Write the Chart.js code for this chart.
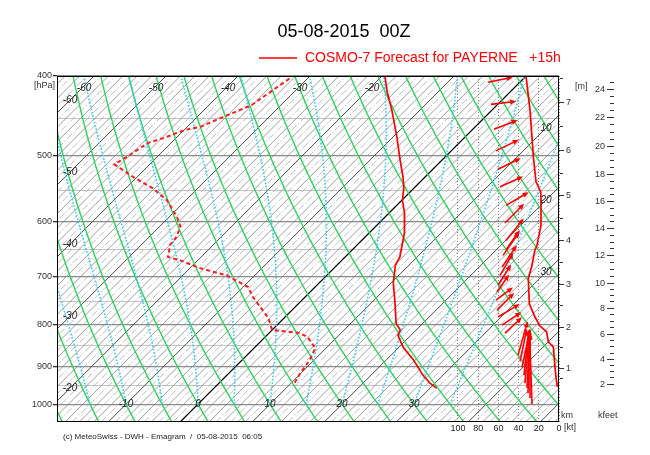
<!DOCTYPE html>
<html><head><meta charset="utf-8">
<script src="https://cdn.jsdelivr.net/npm/chart.js@4.4.1/dist/chart.umd.min.js"></script>
<style>html,body{margin:0;padding:0;background:#fff}canvas{display:block}</style>
</head><body>
<canvas id="c" width="650" height="455"></canvas>
<script>
// ---------------- data ----------------
const tempP = [400, 418, 440, 474, 506, 530, 546, 566, 587, 620, 663, 678, 713, 748, 798, 813, 825, 853, 884, 922, 943, 956];
const tempT = [-19.6, -17.1, -13.9, -9.5, -5.8, -3.1, -1.5, 0.1, 2.2, 4.9, 7.6, 8.1, 10.3, 12.9, 16.3, 17.8, 18.2, 20.6, 23.8, 27.2, 29.3, 30.9];

const dewP = [403, 434, 446, 461, 465, 476, 482, 501, 512, 530, 547, 566, 593, 609, 627, 641, 663, 669, 684, 698, 721, 741, 786, 813, 820, 829, 855, 884, 917, 948];
const dewT = [-32.5, -34.1, -36.0, -38.2, -39.9, -41.8, -43.2, -44.2, -44.9, -40.6, -36.3, -32.6, -28.9, -27.1, -26.2, -26.0, -24.6, -22.5, -18.6, -13.9, -9.3, -7.3, -2.2, 0.0, 4.3, 5.9, 8.5, 9.4, 9.9, 10.6];

const speedP  = [400, 440, 501, 537, 553, 566, 607, 644, 650, 681, 704, 755, 784, 804, 817, 840, 852, 901, 927, 953];
const speedKt = [32.7, 28.7, 25.4, 22.8, 18.1, 17.8, 17.8, 22.1, 23.8, 27.0, 30.4, 29.4, 23.8, 18.8, 12.2, 10.6, 5.6, 4.0, 3.0, 1.7];

// wind arrows: level (hPa), tail position on kt axis, arrow direction (deg, 0=east, 90=north/up), arrow length (kt units)
const windP     = [407, 433, 464, 493, 519, 545, 574, 603, 633, 650, 660, 682, 698, 717, 731, 748, 769, 784, 802, 820, 872, 887, 902, 922, 943, 956, 970, 983, 1000];
const windPosKt = [70.3, 67.3, 64.4, 62.4, 60.4, 58.4, 52.5, 53.5, 52.5, 52.5, 55.4, 56.4, 58.4, 60.4, 61.4, 62.4, 61.4, 60.4, 56.4, 53.5, 40.6, 38.6, 36.6, 34.7, 33.7, 31.7, 30.7, 28.7, 26.7];
const windDir   = [11, 7, 21, 26, 26, 24, 30, 45, 51, 55, 55, 56, 60, 57, 55, 37, 45, 31, 34, 43, 74, 78, 78, 84, 85, 87, 88, 90, 92];
const windLen   = [25, 25, 25, 25, 25, 25, 26, 27, 28, 24, 28, 26, 26, 24, 21, 21, 24, 25, 23, 23, 35, 33, 39, 45, 54, 55, 59, 65, 70];

const pressureTicks = [400, 450, 500, 550, 600, 650, 700, 750, 800, 850, 900, 950, 1000];
const ktTicks = [0, 20, 40, 60, 80, 100];

const kmLabels = [1, 2, 3, 4, 5, 6, 7];
const kmP      = [904, 806, 715, 633, 558, 492, 430];
const kftLabels = [2, 4, 6, 8, 10, 12, 14, 16, 18, 20, 22, 24];
const kftP      = [944, 882, 821, 764, 712, 659, 612, 567, 526, 486, 449, 415];

const isoTopLabels = [-60, -50, -40, -30, -20];
const isoLeftLabels = [-60, -50, -40, -30, -20];
const isoBottomLabels = [-10, 0, 10, 20, 30];
const isoRightLabels = [10, 20, 30];

// ---------------- diagram geometry ----------------
const SKEW = 358 / 7.2;            // skew of isotherms (°C per unit ln p)
const skewX = (T, p) => T + SKEW * Math.log(1000 / p);

function moistDTdp(T, p) {          // pseudo-adiabatic lapse, K per hPa
  const Tc = T - 273.15;
  const es = 6.112 * Math.exp(17.67 * Tc / (Tc + 243.5));
  const rs = 0.622 * es / (p - es);
  const Rd = 287.04, cp = 1005.7, Lv = 2.501e6;
  return ((Rd * T + Lv * rs) / p) / (cp + (Lv * Lv * rs * 0.622) / (Rd * T * T));
}

const bgPlugin = {
  id: 'bg',
  beforeDatasetsDraw(chart) {
    const { ctx, chartArea: a, scales } = chart;
    const xs = scales.x, ys = scales.y;
    const px = (T, p) => xs.getPixelForValue(skewX(T, p));
    const py = p => ys.getPixelForValue(p);
    const pTop = ys.min, pBot = ys.max;
    ctx.save();
    ctx.beginPath(); ctx.rect(a.left, a.top, a.right - a.left, a.bottom - a.top); ctx.clip();

    // isotherms
    for (let T = -70; T <= 56; T++) {
      ctx.beginPath();
      if (T === 0) { ctx.strokeStyle = '#000'; ctx.lineWidth = 1.2; ctx.setLineDash([]); }
      else if (T % 10 === 0) { ctx.strokeStyle = '#4a4a4a'; ctx.lineWidth = 1; ctx.setLineDash([]); }
      else if (T % 2 === 0) { ctx.strokeStyle = '#858585'; ctx.lineWidth = 0.8; ctx.setLineDash([]); }
      else { ctx.strokeStyle = '#a0a0a0'; ctx.lineWidth = 0.7; ctx.setLineDash([7, 2, 1.5, 2]); }
      ctx.moveTo(px(T, pBot), py(pBot));
      ctx.lineTo(px(T, pTop), py(pTop));
      ctx.stroke();
    }
    ctx.setLineDash([]);

    // dry adiabats
    ctx.strokeStyle = '#2fd35a'; ctx.lineWidth = 1.4;
    for (let th = -25; th <= 95; th += 5) {
      const theta = th + 273.15;
      ctx.beginPath();
      let first = true;
      for (let p = pBot; p >= pTop - 1; p -= 5) {
        const T = theta * Math.pow(p / 1000, 0.2857) - 273.15;
        const x = px(T, p), y = py(p);
        if (first) { ctx.moveTo(x, y); first = false; } else ctx.lineTo(x, y);
      }
      ctx.stroke();
    }

    // moist adiabats
    ctx.strokeStyle = '#30cdf5'; ctx.lineWidth = 1.6; ctx.setLineDash([1.6, 1.8]);
    for (let tw = -20; tw <= 35; tw += 5) {
      let T = tw + 273.15;
      ctx.beginPath();
      ctx.moveTo(px(T - 273.15, 1000), py(1000));
      for (let p = 1000; p > pTop; p -= 2) {
        T = T - moistDTdp(T, p) * 2;
        ctx.lineTo(px(T - 273.15, p - 2), py(p - 2));
      }
      ctx.stroke();
    }
    ctx.setLineDash([]);
    ctx.restore();
  },
  afterDatasetsDraw(chart) {
    const { ctx, scales } = chart;
    const ks = scales.kt, ys = scales.y;
    ctx.save();
    ctx.strokeStyle = '#ff0000'; ctx.fillStyle = '#ff0000'; ctx.lineWidth = 1.6;
    const unit = Math.abs(ks.getPixelForValue(0) - ks.getPixelForValue(1));
    for (let i = 0; i < windP.length; i++) {
      const x0 = ks.getPixelForValue(windPosKt[i]), y0 = ys.getPixelForValue(windP[i]);
      const ang = windDir[i] * Math.PI / 180, L = windLen[i] * unit;
      const x1 = x0 + L * Math.cos(ang), y1 = y0 - L * Math.sin(ang);
      const ux = Math.cos(ang), uy = -Math.sin(ang);
      const hl = 6, hw = 2.6;
      ctx.beginPath(); ctx.moveTo(x0, y0); ctx.lineTo(x1 - ux * hl * 0.6, y1 - uy * hl * 0.6); ctx.stroke();
      ctx.beginPath();
      ctx.moveTo(x1, y1);
      ctx.lineTo(x1 - ux * hl - uy * hw, y1 - uy * hl + ux * hw);
      ctx.lineTo(x1 - ux * hl + uy * hw, y1 - uy * hl - ux * hw);
      ctx.closePath(); ctx.fill();
    }
    ctx.restore();
  },
  afterDraw(chart) {
    const { ctx, chartArea: a, scales } = chart;
    const xs = scales.x, ys = scales.y, ks = scales.kt;
    const px = (T, p) => xs.getPixelForValue(skewX(T, p));
    const py = p => ys.getPixelForValue(p);
    ctx.save();
    // frame
    ctx.strokeStyle = '#000'; ctx.lineWidth = 1;
    ctx.strokeRect(a.left + 0.5, a.top + 0.5, a.right - a.left - 1, a.bottom - a.top - 1);

    // isotherm labels
    ctx.fillStyle = '#222'; ctx.font = 'italic 10px "Liberation Sans", Arial, sans-serif';
    ctx.textAlign = 'center'; ctx.textBaseline = 'middle';
    const pAt = (T, X) => 1000 * Math.exp(-(X - T) / SKEW);
    const Xleft = xs.getValueForPixel(a.left + 13), Xright = xs.getValueForPixel(a.right - 13);
    const pTopLab = ys.getValueForPixel(a.top + 12);
    isoTopLabels.forEach(T => ctx.fillText(String(T), px(T, pTopLab) + 2, py(pTopLab)));
    isoLeftLabels.forEach(T => { const p = pAt(T, Xleft); ctx.fillText(String(T), px(T, p), py(p)); });
    isoBottomLabels.forEach(T => ctx.fillText(String(T), px(T, 1000), py(1000)));
    isoRightLabels.forEach(T => { const p = pAt(T, Xright); ctx.fillText(String(T), px(T, p), py(p)); });

    // [hPa]
    ctx.font = '9px "Liberation Sans", Arial, sans-serif'; ctx.fillStyle = '#333';
    ctx.textAlign = 'right';
    ctx.fillText('[hPa]', a.left - 2, a.top + 10);

    // km axis
    ctx.strokeStyle = '#333'; ctx.lineWidth = 1; ctx.textAlign = 'left';
    const kmMinor = [];
    kmP.forEach((p, i) => { if (i > 0) kmMinor.push(Math.sqrt(p * kmP[i - 1])); });
    kmMinor.push(Math.sqrt(kmP[0] * 956)); kmMinor.push(kmP[6] * Math.sqrt(kmP[6] / kmP[5]));
    kmP.forEach((p, i) => {
      const y = Math.round(py(p)) + 0.5;
      ctx.beginPath(); ctx.moveTo(a.right, y); ctx.lineTo(a.right + 5, y); ctx.stroke();
      ctx.fillText(String(kmLabels[i]), a.right + 7, y);
    });
    kmMinor.forEach(p => {
      const y = Math.round(py(p)) + 0.5;
      ctx.beginPath(); ctx.moveTo(a.right + 1, y); ctx.lineTo(a.right + 4, y); ctx.stroke();
    });
    ctx.fillText('[m]', a.right + 16, py(412));
    ctx.fillText('km', a.right + 2, a.bottom - 6);

    // kfeet axis
    const kx = 607;
    ctx.textAlign = 'right';
    kftP.forEach((p, i) => {
      const y = Math.round(py(p)) + 0.5;
      ctx.beginPath(); ctx.moveTo(kx, y); ctx.lineTo(kx + 7, y); ctx.stroke();
      ctx.fillText(String(kftLabels[i]), kx - 2, y);
      const pts = [];
      if (i > 0) {
        const p0 = kftP[i - 1];
        for (let k = 1; k < 4; k++) pts.push(p0 * Math.pow(p / p0, k / 4));
      }
      pts.forEach(q => {
        const yy = Math.round(py(q)) + 0.5;
        ctx.beginPath(); ctx.moveTo(kx + 3, yy); ctx.lineTo(kx + 7, yy); ctx.stroke();
      });
    });
    { const p0 = kftP[kftP.length - 1], p1 = kftP[kftP.length - 2];
      const q = p0 * Math.pow(p0 / p1, 0.25); const yy = Math.round(py(q)) + 0.5;
      ctx.beginPath(); ctx.moveTo(kx + 3, yy); ctx.lineTo(kx + 7, yy); ctx.stroke(); }
    ctx.textAlign = 'left';
    ctx.fillText('kfeet', 598, a.bottom - 6);

    // [kt]
    ctx.fillText('[kt]', ks.getPixelForValue(0) + 5, a.bottom + 6);

    // footer
    ctx.fillStyle = '#222'; ctx.font = '8px "Liberation Sans", Arial, sans-serif';
    ctx.fillText('(c) MeteoSwiss - DWH - Emagram  /  05-08-2015  06:05', 63, 437);

    // title and legend
    ctx.fillStyle = '#000'; ctx.font = '18px "Liberation Sans", Arial, sans-serif'; ctx.textAlign = 'center';
    ctx.fillText('05-08-2015  00Z', 344, 32);
    ctx.strokeStyle = '#ff0000'; ctx.lineWidth = 1.5;
    ctx.beginPath(); ctx.moveTo(259, 58); ctx.lineTo(297, 58); ctx.stroke();
    ctx.fillStyle = '#ff0000'; ctx.font = '14px "Liberation Sans", Arial, sans-serif'; ctx.textAlign = 'left';
    ctx.fillText('COSMO-7 Forecast for PAYERNE   +15h', 305, 58);
    ctx.restore();
  }
};

new Chart(document.getElementById('c'), {
  type: 'scatter',
  data: {
    datasets: [
      { label: 'T', data: tempP.map((p, i) => ({ x: skewX(tempT[i], p), y: p })), showLine: true,
        borderColor: '#ff0000', borderWidth: 1.7, pointRadius: 0, xAxisID: 'x', yAxisID: 'y' },
      { label: 'Td', data: dewP.map((p, i) => ({ x: skewX(dewT[i], p), y: p })), showLine: true,
        borderColor: '#ff1a1a', borderWidth: 2, borderDash: [4, 3], pointRadius: 0, xAxisID: 'x', yAxisID: 'y' },
      { label: 'ff', data: speedP.map((p, i) => ({ x: speedKt[i], y: p })), showLine: true,
        borderColor: '#ff0000', borderWidth: 1.7, pointRadius: 0, xAxisID: 'kt', yAxisID: 'y' }
    ]
  },
  options: {
    responsive: false, animation: false, devicePixelRatio: 1,
    layout: { padding: { left: 0, right: 91, top: 76, bottom: 0 } },
    plugins: { legend: { display: false }, tooltip: { enabled: false }, title: { display: false } },
    scales: {
      x: { type: 'linear', min: -19.583, max: 50.139, display: false },
      kt: {
        type: 'linear', position: 'bottom', reverse: true, min: 0, max: 497,
        afterBuildTicks: s => { s.ticks = ktTicks.map(v => ({ value: v })); },
        afterFit: s => { s.height = 33; },
        grid: { color: '#777', lineWidth: 0.9, drawTicks: false },
        border: { display: false, dash: [1, 2] },
        ticks: { padding: 1, color: '#222', font: { size: 9, family: '"Liberation Sans", Arial, sans-serif' }, maxRotation: 0, autoSkip: false }
      },
      y: {
        type: 'logarithmic', position: 'left', reverse: true, min: 400, max: 1051,
        afterBuildTicks: s => { s.ticks = pressureTicks.map(v => ({ value: v })); },
        afterFit: s => { s.width = 57; },
        grid: {
          color: c => (c.tick && c.tick.value % 100 === 0) ? '#8a8a8a' : '#c4c4c4',
          lineWidth: c => (c.tick && c.tick.value % 100 === 0) ? 1.3 : 1,
          tickColor: c => (c.tick && c.tick.value % 100 === 0) ? '#333' : 'rgba(0,0,0,0)',
          tickLength: 4
        },
        border: { display: false },
        ticks: { callback: v => (v % 100 === 0 ? String(v) : ''), padding: 1, color: '#333',
                 font: { size: 9, family: '"Liberation Sans", Arial, sans-serif' }, autoSkip: false }
      }
    }
  },
  plugins: [bgPlugin]
});
</script>
</body></html>
